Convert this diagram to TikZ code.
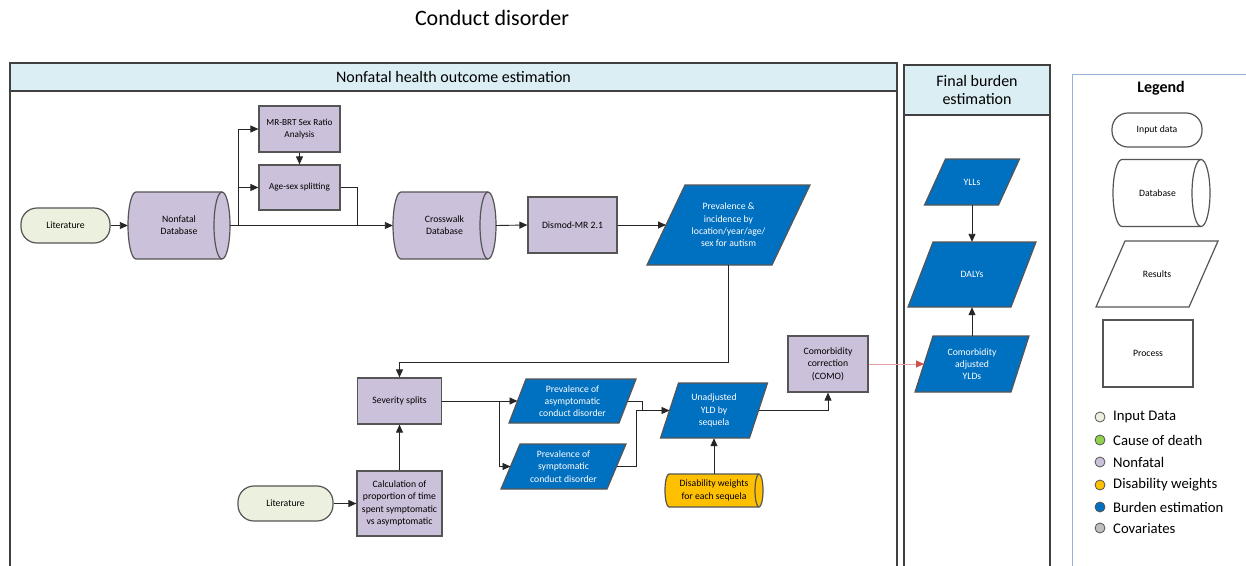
\documentclass[tikz,border=0pt]{standalone}
\usepackage{fontspec}
\setmainfont{Carlito}
\usetikzlibrary{arrows.meta,calc}

\definecolor{nf}{HTML}{CCC1DA}
\definecolor{bl}{HTML}{0070C0}
\definecolor{yl}{HTML}{FFC000}
\definecolor{ingreen}{HTML}{EBF1DE}
\definecolor{hdr}{HTML}{DBEEF4}
\definecolor{bord}{HTML}{555555}
\definecolor{pbord}{HTML}{404040}
\definecolor{lgb}{HTML}{95B3D7}
\definecolor{cod}{HTML}{92D050}
\definecolor{cov}{HTML}{BFBFBF}
\definecolor{redl}{HTML}{E6A0A0}
\definecolor{redt}{HTML}{D05050}

\tikzset{
  base/.style={inner sep=1pt, align=center, font=\fontsize{9.7}{12.3}\selectfont, text=black},
  smallf/.style={font=\fontsize{9.2}{11.5}\selectfont},
  boxnode/.style={base, rectangle, draw=bord, line width=1.2pt},
  pill/.style={base, rectangle, rounded corners=16pt, draw=bord, line width=1.2pt},
  ghost/.style={base, rectangle, draw=none, fill=none},
  shp/.style={draw=bord, line width=1.2pt},
  con/.style={draw=black!85, line width=0.9pt},
  arr/.style={con, -{Triangle[length=8pt,width=7pt]}},
  redarr/.style={draw=redl, line width=0.9pt, -{Triangle[length=8pt,width=7pt,color=redt]}},
  panel/.style={draw=pbord, line width=1.1pt},
  hdrtext/.style={font=\fontsize{16}{18.5}\selectfont, align=center, text=black},
  legtext/.style={font=\fontsize{14.7}{17}\selectfont, anchor=west, inner sep=0pt},
  dot/.style={circle, draw=bord, line width=0.8pt, minimum size=10pt, inner sep=0pt},
}

% parallelogram: name, cx, cy, w, h, slant, fill, text options, text
\newcommand\paranode[9]{%
  \path[shp, fill=#7] ({#2-#4/2},{#3+#5/2}) -- ({#2+#4/2-#6},{#3+#5/2})
     -- ({#2+#4/2},{#3-#5/2}) -- ({#2-#4/2+#6},{#3-#5/2}) -- cycle;
  \node[ghost, minimum width=#4, minimum height=#5, #8] (#1) at (#2,#3) {#9};
  \coordinate (#1-l) at ({#2-#4/2+#6/2},#3);
  \coordinate (#1-r) at ({#2+#4/2-#6/2},#3);
}
% cylinder: name, cx, cy, w, h, rx, fill, text options, text
\newcommand\dbnode[9]{%
  \path[shp, fill=#7] ({#2-#4/2+#6},{#3-#5/2}) -- ({#2+#4/2-#6},{#3-#5/2})
     arc[start angle=90, end angle=-90, x radius={#6*1pt}, y radius={#5/2*1pt}]
     -- ({#2-#4/2+#6},{#3+#5/2})
     arc[start angle=270, end angle=90, x radius={#6*1pt}, y radius={#5/2*1pt}] -- cycle;
  \path[shp] ({#2+#4/2-#6},{#3-#5/2})
     arc[start angle=90, end angle=270, x radius={#6*1pt}, y radius={#5/2*1pt}];
  \node[ghost, minimum width=#4, minimum height=#5, #8] (#1) at (#2,#3) {#9};
}

\begin{document}
\begin{tikzpicture}[x=1pt, y=-1pt]
\useasboundingbox (0,0) rectangle (1246,565);
\fill[white] (0,0) rectangle (1246,565);

% title
\node[font=\fontsize{22}{26}\selectfont] (title) at (492,18) {Conduct disorder};

% panels
\fill[hdr] (10,63) rectangle (897,91);
\draw[panel] (10,567) -- (10,63) -- (897,63) -- (897,567);
\draw[panel] (10,91) -- (897,91);
\node[hdrtext] (hdr1) at (453.5,77) {Nonfatal health outcome estimation};

\fill[hdr] (904,65) rectangle (1050,115);
\draw[panel] (904,567) -- (904,65) -- (1050,65) -- (1050,567);
\draw[panel] (904,115) -- (1050,115);
\node[hdrtext] (hdr2) at (977,90) {Final burden\\estimation};

\draw[draw=lgb, line width=1pt] (1072,567) -- (1072,74) -- (1247,74);
\node[font=\fontsize{16}{18}\selectfont\bfseries] (legtitle) at (1161,88) {Legend};

% nonfatal nodes
\node[pill, fill=ingreen, minimum width=89, minimum height=35] (lit1) at (65.5,225.5) {Literature};
\dbnode{ndb}{179}{225.5}{102}{67}{8}{nf}{}{Nonfatal\\Database}
\node[boxnode, smallf, fill=nf, minimum width=81, minimum height=46] (mrbrt) at (299.5,129) {MR-BRT Sex Ratio\\Analysis};
\node[boxnode, smallf, fill=nf, minimum width=81, minimum height=45] (agesex) at (299.5,187.5) {Age-sex splitting};
\dbnode{cw}{444.5}{225.5}{103}{67}{8}{nf}{}{Crosswalk\\Database}
\node[boxnode, fill=nf, minimum width=89, minimum height=56] (dismod) at (572.5,225) {Dismod-MR 2.1};
\paranode{prev}{728.5}{225}{163}{80}{38}{bl}{text=white}{Prevalence \&\\incidence by\\location/year/age/\\sex for autism}

\node[boxnode, fill=nf, minimum width=84, minimum height=46] (sev) at (399.5,401) {Severity splits};
\node[boxnode, fill=nf, minimum width=85, minimum height=65] (calc) at (399.5,503.5) {Calculation of\\proportion of time\\spent symptomatic\\vs asymptomatic};
\node[pill, fill=ingreen, minimum width=95, minimum height=35] (lit2) at (285.5,503.5) {Literature};
\paranode{asym}{572.5}{401}{127}{44}{17}{bl}{text=white}{Prevalence of\\asymptomatic\\conduct disorder}
\paranode{sym}{563.5}{466.5}{125}{45}{19}{bl}{text=white}{Prevalence of\\symptomatic\\conduct disorder}
\paranode{yld}{714}{410.5}{107}{55}{18}{bl}{text=white}{Unadjusted\\YLD by\\sequela}
\dbnode{dw}{714}{490.5}{98}{33}{4}{yl}{}{Disability weights\\for each sequela}
\node[boxnode, fill=nf, minimum width=80, minimum height=56] (como) at (828,364) {Comorbidity\\correction\\(COMO)};

% final burden nodes
\paranode{yll}{972}{182}{95}{46}{21}{bl}{text=white}{YLLs}
\paranode{daly}{972}{274.5}{128}{65}{25}{bl}{text=white}{DALYs}
\paranode{cadj}{972}{364}{114}{56}{18}{bl}{text=white}{Comorbidity\\adjusted\\YLDs}

% legend shapes
\node[pill, fill=white, minimum width=90, minimum height=34] (lin) at (1157,130) {Input data};
\dbnode{ldb}{1161.5}{193}{97}{67}{9}{white}{xshift=-4pt}{Database}
\paranode{lres}{1157}{274}{122}{66}{29}{white}{}{Results}
\node[boxnode, fill=white, minimum width=90, minimum height=67] (lproc) at (1148,353.5) {Process};

% legend colours
\node[dot, fill=ingreen] (d1) at (1100,417) {};
\node[legtext] (t1) at (1113,417) {Input Data};
\node[dot, fill=cod] (d2) at (1100,440) {};
\node[legtext] (t2) at (1113,440) {Cause of death};
\node[dot, fill=nf] (d3) at (1100,462) {};
\node[legtext] (t3) at (1113,462) {Nonfatal};
\node[dot, fill=yl] (d4) at (1100,485) {};
\node[legtext] (t4) at (1113,485) {Disability weights};
\node[dot, fill=bl] (d5) at (1100,507) {};
\node[legtext] (t5) at (1113,507) {Burden estimation};
\node[dot, fill=cov] (d6) at (1100,528) {};
\node[legtext] (t6) at (1113,528) {Covariates};

% connectors
\coordinate (b1) at (238,225.5);
\coordinate (j1) at (357,225.5);
\coordinate (k1) at (728.5,362);
\coordinate (b2) at (499,401);
\coordinate (m1) at (642,410.5);
\coordinate (m2) at (636,410.5);

\draw[arr] (lit1.east) -- (ndb.west);
\draw[arr] (ndb.east) -- (cw.west);
\draw[arr] (b1) |- (mrbrt.west);
\draw[arr] (b1) |- (agesex.west);
\draw[arr] (mrbrt.south) -- (agesex.north);
\draw[con] (agesex.east) -| (j1);
\draw[arr] (cw.east) -- (dismod.west);
\draw[arr] (dismod.east) -- (prev-l);
\draw[arr] (prev.south) -- (k1) -| (sev.north);
\draw[arr] (lit2.east) -- (calc.west);
\draw[arr] (calc.north) -- (sev.south);
\draw[arr] (sev.east) -- (asym-l);
\draw[arr] (b2) |- (sym-l);
\draw[con] (asym-r) -| (m1);
\draw[con] (sym-r) -| (m2);
\draw[arr] (m2) -- (yld-l);
\draw[arr] (dw.north) -- (yld.south);
\draw[arr] (yld-r) -| (como.south);
\draw[redarr] (como.east) -- (cadj-l);
\draw[arr] (cadj.north) -- (daly.south);
\draw[arr] (yll.south) -- (daly.north);
\end{tikzpicture}
\end{document}
